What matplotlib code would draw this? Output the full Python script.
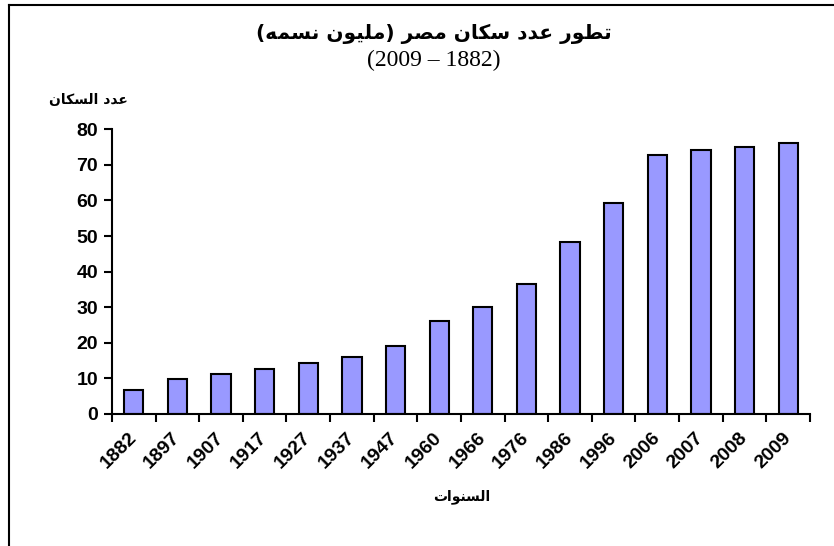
import matplotlib
matplotlib.use("Agg")
import matplotlib.pyplot as plt
from matplotlib.lines import Line2D
from matplotlib.transforms import ScaledTranslation

# Egypt population (million) by census year
years = ['1882', '1897', '1907', '1917', '1927', '1937', '1947', '1960',
         '1966', '1976', '1986', '1996', '2006', '2007', '2008', '2009']
population = [6.7, 9.7, 11.2, 12.7, 14.2, 15.9, 19.0, 26.1,
              30.1, 36.6, 48.2, 59.3, 72.8, 74.2, 75.0, 76.1]
y_ticks = [0, 10, 20, 30, 40, 50, 60, 70, 80]

title_ar = 'تطور عدد سكان مصر (مليون نسمه)'
subtitle = '(2009 – 1882)'
ylabel_ar = 'عدد السكان'
xlabel_ar = 'السنوات'

# matplotlib has no arabic shaping, so map letters to presentation forms
# (isolated, final, initial, medial) and reverse into visual order
FORMS = {
    'ا': ('\uFE8D', '\uFE8E', None, None),
    'ت': ('\uFE95', '\uFE96', '\uFE97', '\uFE98'),
    'د': ('\uFEA9', '\uFEAA', None, None),
    'ر': ('\uFEAD', '\uFEAE', None, None),
    'س': ('\uFEB1', '\uFEB2', '\uFEB3', '\uFEB4'),
    'ص': ('\uFEB9', '\uFEBA', '\uFEBB', '\uFEBC'),
    'ط': ('\uFEC1', '\uFEC2', '\uFEC3', '\uFEC4'),
    'ع': ('\uFEC9', '\uFECA', '\uFECB', '\uFECC'),
    'ك': ('\uFED9', '\uFEDA', '\uFEDB', '\uFEDC'),
    'ل': ('\uFEDD', '\uFEDE', '\uFEDF', '\uFEE0'),
    'م': ('\uFEE1', '\uFEE2', '\uFEE3', '\uFEE4'),
    'ن': ('\uFEE5', '\uFEE6', '\uFEE7', '\uFEE8'),
    'ه': ('\uFEE9', '\uFEEA', '\uFEEB', '\uFEEC'),
    'و': ('\uFEED', '\uFEEE', None, None),
    'ي': ('\uFEF1', '\uFEF2', '\uFEF3', '\uFEF4'),
}
MIRROR = {'(': ')', ')': '('}


def shape(text):
    out = []
    for i, ch in enumerate(text):
        if ch not in FORMS:
            out.append(MIRROR.get(ch, ch))
            continue
        prev = text[i - 1] if i > 0 else ''
        nxt = text[i + 1] if i + 1 < len(text) else ''
        join_prev = prev in FORMS and FORMS[prev][2] is not None
        join_next = nxt in FORMS and FORMS[ch][2] is not None
        iso, fin, ini, med = FORMS[ch]
        if join_prev and join_next:
            out.append(med)
        elif join_prev:
            out.append(fin)
        elif join_next:
            out.append(ini)
        else:
            out.append(iso)
    return ''.join(reversed(out))


plt.rcParams['font.family'] = ['Liberation Sans', 'DejaVu Sans']

fig = plt.figure(figsize=(8.34, 5.46), dpi=100)
ax = fig.add_axes([0.1343, 0.2418, 0.8369, 0.5214])

x = list(range(len(years)))
ax.bar(x, population, width=0.44, color='#9999FF', edgecolor='black', linewidth=1.5)

ax.set_xlim(-0.5, len(years) - 0.5)
ax.set_ylim(0, 80)
ax.set_yticks(y_ticks)
ax.set_yticklabels([str(v) for v in y_ticks], fontsize=14, fontweight='bold')

# ticks at category boundaries, labels centred on the bars
ax.set_xticks([i - 0.5 for i in range(len(years) + 1)])
ax.set_xticklabels([])
ax.set_xticks(x, minor=True)
ax.set_xticklabels(years, minor=True, rotation=45, ha='right', rotation_mode='anchor',
                   fontsize=14, fontweight='bold')
ax.tick_params(axis='x', which='minor', length=0, pad=11)
ax.tick_params(axis='both', which='major', direction='out', length=6, width=1.5, color='black')
ax.tick_params(axis='y', pad=4)
shift = ScaledTranslation(-6 / 100, 0, fig.dpi_scale_trans)
for lbl in ax.get_xticklabels(minor=True):
    lbl.set_transform(lbl.get_transform() + shift)

for side in ['top', 'right']:
    ax.spines[side].set_visible(False)
for side in ['left', 'bottom']:
    ax.spines[side].set_linewidth(1.5)
ax.patch.set_visible(False)

fig.text(0.52, 0.938, shape(title_ar), ha='center', va='center', fontsize=14.5,
         fontweight='bold', family=['DejaVu Sans'])
fig.text(0.52, 0.889, subtitle, ha='center', va='center', fontsize=17, family=['Liberation Serif'])
fig.text(0.106, 0.817, shape(ylabel_ar), ha='center', va='center', fontsize=10,
         fontweight='bold', family=['DejaVu Sans'])
fig.text(0.554, 0.090, shape(xlabel_ar), ha='center', va='center', fontsize=10,
         fontweight='bold', family=['DejaVu Sans'])

# chart area border (only top and left edges show in the crop)
fig.add_artist(Line2D([9 / 834, 9 / 834], [0, 1 - 5 / 546], color='black', lw=1.5))
fig.add_artist(Line2D([9 / 834, 1], [1 - 5 / 546, 1 - 5 / 546], color='black', lw=1.5))

fig.savefig('out.png', dpi=100)
